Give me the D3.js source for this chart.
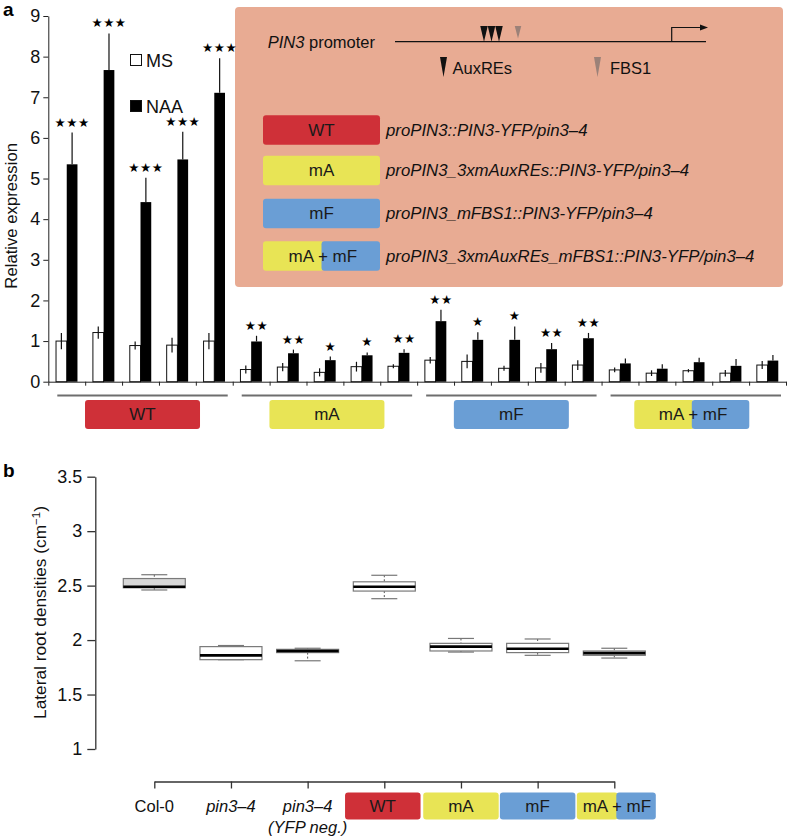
<!DOCTYPE html>
<html><head><meta charset="utf-8">
<script src="https://cdn.jsdelivr.net/npm/d3@7"></script>
<style>
html,body{margin:0;padding:0;background:#fff;}
svg{display:block;font-family:"Liberation Sans",Arial,Helvetica,sans-serif;}
</style></head>
<body><svg id="chart" width="788" height="837"></svg>
<script>
// ---------- Panel a data ----------
const groups = ["WT", "mA", "mF", "mA + mF"];
const pairGroup = [0,0,0,0,0, 1,1,1,1,1, 2,2,2,2,2, 3,3,3,3,3];
const msMean  = [1.00,1.21,0.89,0.90,1.00, 0.30,0.36,0.23,0.37,0.38, 0.53,0.50,0.33,0.34,0.41, 0.29,0.21,0.27,0.21,0.41];
const msErr   = [0.20,0.15,0.10,0.18,0.20, 0.10,0.10,0.10,0.12,0.05, 0.08,0.17,0.06,0.12,0.12, 0.06,0.07,0.04,0.08,0.10];
const naaMean = [5.35,7.67,4.42,5.47,7.11, 0.99,0.70,0.53,0.65,0.71, 1.49,1.03,1.03,0.80,1.07, 0.45,0.32,0.48,0.39,0.52];
const naaErr  = [0.78,0.90,0.60,0.68,0.85, 0.14,0.09,0.09,0.07,0.09, 0.28,0.19,0.33,0.15,0.13, 0.12,0.11,0.11,0.17,0.14];
const stars   = [3,3,3,3,3, 2,2,1,1,2, 2,1,1,2,2, 0,0,0,0,0];
const yTicksA = [0,1,2,3,4,5,6,7,8,9];
const seriesA = ["MS", "NAA"];
const legendRows = [
  {tag: "WT", text: "proPIN3::PIN3-YFP/pin3\u20134"},
  {tag: "mA", text: "proPIN3_3xmAuxREs::PIN3-YFP/pin3\u20134"},
  {tag: "mF", text: "proPIN3_mFBS1::PIN3-YFP/pin3\u20134"},
  {tag: "mA + mF", text: "proPIN3_3xmAuxREs_mFBS1::PIN3-YFP/pin3\u20134"}
];

// ---------- Panel b data ----------
const catsB = ["Col-0", "pin3\u20134", "pin3\u20134 (YFP neg.)", "WT", "mA", "mF", "mA + mF"];
const whiskLo = [2.46, 1.82, 1.81, 2.38, 1.89, 1.86, 1.835];
const q1      = [2.48, 1.82, 1.885, 2.45, 1.90, 1.885, 1.86];
const median  = [2.49, 1.86, 1.90, 2.49, 1.94, 1.92, 1.88];
const q3      = [2.565, 1.94, 1.915, 2.535, 1.97, 1.97, 1.90];
const whiskHi = [2.60, 1.95, 1.925, 2.595, 2.015, 2.01, 1.925];
const yTicksB = [1, 1.5, 2, 2.5, 3, 3.5];

const colors = {WT: "#CF3038", mA: "#E8E455", mF: "#6A9ED5"};
const legendBg = "#E8AB93";

const svg = d3.select("#chart");

// ===================== PANEL A =====================
const A = {left: 48.3, right: 786, top: 16, bottom: 381.7};
const yA = d3.scaleLinear().domain([0, 9]).range([A.bottom, A.top]);
const xA = d3.scaleBand().domain(d3.range(msMean.length)).range([A.left, A.right]).padding(0);
const xInner = d3.scaleBand().domain(seriesA).range([0, xA.bandwidth()]).paddingInner(0).paddingOuter(0.72);
const xBound = d3.scaleLinear().domain([0, msMean.length]).range([A.left, A.right]);

const gA = svg.append("g");
svg.append("text").attr("x", 3).attr("y", 16).attr("font-size", 19).attr("font-weight", "bold").text("a");

const LB = {x: 235, y: 7, w: 548, h: 280};
gA.append("rect").attr("x", LB.x).attr("y", LB.y).attr("width", LB.w).attr("height", LB.h)
  .attr("rx", 4).attr("fill", legendBg);

const axA = gA.append("g").attr("transform", `translate(${A.left},0)`)
  .call(d3.axisLeft(yA).tickValues(yTicksA).tickSize(5).tickSizeOuter(0).tickPadding(3));
axA.select(".domain").attr("stroke", "#222");
axA.selectAll(".tick line").attr("stroke", "#222");
axA.selectAll(".tick text").attr("font-size", 18).attr("fill", "#111").attr("font-family", "Liberation Sans, Arial, sans-serif");

const axX = gA.append("g").attr("transform", `translate(0,${A.bottom})`)
  .call(d3.axisBottom(xBound).tickValues(d3.range(msMean.length + 1)).tickSize(4).tickSizeOuter(0).tickFormat(""));
axX.select(".domain").attr("stroke", "#222");
axX.selectAll(".tick line").attr("stroke", "#222");

gA.append("text").attr("transform", `translate(17,${(A.top + A.bottom) / 2 + 17}) rotate(-90)`)
  .attr("text-anchor", "middle").attr("font-size", 16.7).attr("fill", "#111").text("Relative expression");

const pairs = msMean.map((m, i) => ({i, ms: m, msE: msErr[i], naa: naaMean[i], naaE: naaErr[i], st: stars[i]}));
const pg = gA.selectAll("g.pair").data(pairs).join("g").attr("class", "pair")
  .attr("transform", d => `translate(${xA(d.i)},0)`);
const bw = xInner.bandwidth();
pg.append("rect").attr("x", xInner("MS")).attr("width", bw)
  .attr("y", d => yA(d.ms)).attr("height", d => yA(0) - yA(d.ms))
  .attr("fill", "#fff").attr("stroke", "#111").attr("stroke-width", 1);
pg.append("rect").attr("x", xInner("NAA")).attr("width", bw)
  .attr("y", d => yA(d.naa)).attr("height", d => yA(0) - yA(d.naa))
  .attr("fill", "#000");
pg.append("line").attr("x1", xInner("MS") + bw / 2).attr("x2", xInner("MS") + bw / 2)
  .attr("y1", d => yA(d.ms - d.msE)).attr("y2", d => yA(d.ms + d.msE)).attr("stroke", "#111").attr("stroke-width", 1.2);
pg.append("line").attr("x1", xInner("NAA") + bw / 2).attr("x2", xInner("NAA") + bw / 2)
  .attr("y1", d => yA(d.naa)).attr("y2", d => yA(d.naa + d.naaE)).attr("stroke", "#111").attr("stroke-width", 1.2);
pg.filter(d => d.st > 0).append("text")
  .attr("x", xInner("NAA") + bw / 2).attr("y", d => yA(d.naa + d.naaE) - 6)
  .attr("text-anchor", "middle").attr("font-size", 12.5).attr("font-family", "DejaVu Sans")
  .attr("letter-spacing", 0.5).text(d => "\u2605".repeat(d.st));

const legS = [{k: "MS", y: 60, fill: "#fff"}, {k: "NAA", y: 106, fill: "#000"}];
legS.forEach(s => {
  gA.append("rect").attr("x", 130.5).attr("y", s.y - 5.5).attr("width", 11).attr("height", 11)
    .attr("fill", s.fill).attr("stroke", "#111").attr("stroke-width", 1);
  gA.append("text").attr("x", 146).attr("y", s.y + 6.5).attr("font-size", 18).attr("fill", "#111").text(s.k);
});

function drawTag(g, tag, cx, cy, w, h, fs) {
  if (tag === "mA + mF") {
    const yw = w * 0.52, bwid = w * 0.5;
    g.append("rect").attr("x", cx - w / 2).attr("y", cy - h / 2).attr("width", yw).attr("height", h).attr("rx", 3).attr("fill", colors.mA);
    g.append("rect").attr("x", cx + w / 2 - bwid).attr("y", cy - h / 2).attr("width", bwid).attr("height", h).attr("rx", 3).attr("fill", colors.mF);
    g.append("text").attr("x", cx - w / 2 + yw - 1).attr("y", cy).attr("dy", "0.35em").attr("text-anchor", "middle")
      .attr("font-size", fs).attr("fill", "#1a1a1a").text("mA + mF");
  } else {
    g.append("rect").attr("x", cx - w / 2).attr("y", cy - h / 2).attr("width", w).attr("height", h).attr("rx", 3).attr("fill", colors[tag]);
    g.append("text").attr("x", cx).attr("y", cy).attr("dy", "0.35em").attr("text-anchor", "middle")
      .attr("font-size", fs).attr("fill", "#1a1a1a").text(tag);
  }
}
groups.forEach((gname, gi) => {
  const idx = pairGroup.map((p, i) => p === gi ? i : -1).filter(i => i >= 0);
  const x0 = xA(idx[0]) + 9, x1 = xA(idx[idx.length - 1]) + xA.bandwidth() - 5;
  gA.append("line").attr("x1", x0).attr("x2", x1).attr("y1", 395.5).attr("y2", 395.5)
    .attr("stroke", "#6e6e6e").attr("stroke-width", 1.8);
  const cx = (x0 + x1) / 2;
  drawTag(gA, gname, gname === "mA + mF" ? cx - 4 : cx, 414.5, 115, 29, 17);
});

gA.append("text").attr("x", 375).attr("y", 48).attr("text-anchor", "end").attr("font-size", 16.5).attr("fill", "#111")
  .call(t => { t.append("tspan").attr("font-style", "italic").text("PIN3"); t.append("tspan").text(" promoter"); });
gA.append("line").attr("x1", 395).attr("x2", 706).attr("y1", 41.7).attr("y2", 41.7).attr("stroke", "#111").attr("stroke-width", 1.2);
gA.append("path").attr("d", "M671.7,41.7V27.5H702").attr("fill", "none").attr("stroke", "#111").attr("stroke-width", 1.2);
gA.append("path").attr("d", "M708,27.5L700,24.5L700,30.5Z").attr("fill", "#111");
const tri = (x, yTop, w, h) => `M${x - w / 2},${yTop}L${x + w / 2},${yTop}L${x},${yTop + h}Z`;
const auxPos = [484, 491.5, 499];
auxPos.forEach(x => gA.append("path").attr("d", tri(x, 26, 7.5, 15.7)).attr("fill", "#111"));
gA.append("path").attr("d", tri(518, 26, 6.5, 12.5)).attr("fill", "#9c8178");
gA.append("path").attr("d", tri(443.5, 57, 7, 20)).attr("fill", "#111");
gA.append("text").attr("x", 452.5).attr("y", 74).attr("font-size", 16.5).attr("fill", "#111").text("AuxREs");
gA.append("path").attr("d", tri(597.5, 57, 7, 20)).attr("fill", "#9c8178");
gA.append("text").attr("x", 610).attr("y", 74).attr("font-size", 16.5).attr("fill", "#111").text("FBS1");

const rowY = [130, 170.5, 213.5, 256];
legendRows.forEach((r, i) => {
  drawTag(gA, r.tag, 321.5, rowY[i], 117, 29.5, 17);
  gA.append("text").attr("x", 386).attr("y", rowY[i]).attr("dy", "0.35em").attr("font-size", 16.8)
    .attr("font-style", "italic").attr("fill", "#111").text(r.text);
});

// ===================== PANEL B =====================
const B = {left: 95.3, top: 476.7, bottom: 749, axisY: 781.5};
const yB = d3.scaleLinear().domain([1, 3.5]).range([B.bottom, B.top]);
const xB = d3.scalePoint().domain(catsB).range([154.3, 614.3]);
const gB = svg.append("g");
svg.append("text").attr("x", 3).attr("y", 477).attr("font-size", 19).attr("font-weight", "bold").text("b");

const axB = gB.append("g").attr("transform", `translate(${B.left},0)`)
  .call(d3.axisLeft(yB).tickValues(yTicksB).tickSize(8).tickSizeOuter(0).tickPadding(5).tickFormat(d3.format("")));
axB.select(".domain").attr("stroke", "#333").attr("stroke-width", 1.3);
axB.selectAll(".tick line").attr("stroke", "#333").attr("stroke-width", 1.3);
axB.selectAll(".tick text").attr("font-size", 18).attr("fill", "#111").attr("font-family", "Liberation Sans, Arial, sans-serif");

const axBX = gB.append("g").attr("transform", `translate(0,${B.axisY})`)
  .call(d3.axisBottom(xB).tickSize(7).tickSizeOuter(0).tickFormat(""));
axBX.select(".domain").attr("stroke", "#333").attr("stroke-width", 1.3);
axBX.selectAll(".tick line").attr("stroke", "#333").attr("stroke-width", 1.3);

gB.append("text").attr("transform", `translate(46,612.5) rotate(-90)`).attr("text-anchor", "middle")
  .attr("font-size", 17.3).attr("fill", "#111")
  .call(t => { t.append("tspan").text("Lateral root densities (cm"); t.append("tspan").attr("baseline-shift", "super").attr("font-size", 11.5).text("\u22121"); t.append("tspan").text(")"); });

gB.append("text").attr("x", xB(catsB[0])).attr("y", 812).attr("text-anchor", "middle").attr("font-size", 16.5).attr("fill", "#111").text("Col-0");
gB.append("text").attr("x", xB(catsB[1])).attr("y", 812).attr("text-anchor", "middle").attr("font-size", 16.5).attr("font-style", "italic").attr("fill", "#111").text("pin3\u20134");
gB.append("text").attr("x", xB(catsB[2])).attr("y", 812).attr("text-anchor", "middle").attr("font-size", 16.5).attr("font-style", "italic").attr("fill", "#111").text("pin3\u20134");
gB.append("text").attr("x", xB(catsB[2])).attr("y", 833).attr("text-anchor", "middle").attr("font-size", 16.5).attr("font-style", "italic").attr("fill", "#111").text("(YFP neg.)");
drawTag(gB, "WT", xB("WT") - 1.5, 806, 75.5, 27, 17);
drawTag(gB, "mA", xB("mA"), 806, 75.5, 27, 17);
drawTag(gB, "mF", xB("mF"), 806, 75.5, 27, 17);
drawTag(gB, "mA + mF", xB("mA + mF") + 2, 806, 79, 27, 17);

const boxW = 62, capW = 26;
const boxes = catsB.map((c, i) => ({c, i, lo: whiskLo[i], q1: q1[i], md: median[i], q3: q3[i], hi: whiskHi[i]}));
const bg = gB.selectAll("g.box").data(boxes).join("g").attr("class", "box").attr("transform", d => `translate(${xB(d.c)},0)`);
bg.append("line").attr("x1", 0).attr("x2", 0).attr("y1", d => yB(d.hi)).attr("y2", d => yB(d.q3))
  .attr("stroke", "#555").attr("stroke-dasharray", "2,2");
bg.append("line").attr("x1", 0).attr("x2", 0).attr("y1", d => yB(d.q1)).attr("y2", d => yB(d.lo))
  .attr("stroke", "#555").attr("stroke-dasharray", "2,2");
bg.append("line").attr("x1", -capW / 2).attr("x2", capW / 2).attr("y1", d => yB(d.hi)).attr("y2", d => yB(d.hi)).attr("stroke", "#777").attr("stroke-width", 1.2);
bg.append("line").attr("x1", -capW / 2).attr("x2", capW / 2).attr("y1", d => yB(d.lo)).attr("y2", d => yB(d.lo)).attr("stroke", "#777").attr("stroke-width", 1.2);
bg.append("rect").attr("x", -boxW / 2).attr("width", boxW)
  .attr("y", d => yB(d.q3)).attr("height", d => yB(d.q1) - yB(d.q3))
  .attr("fill", d => d.i === 0 ? "#d8d8d8" : "#fff").attr("stroke", "#7a7a7a").attr("stroke-width", 1.2);
bg.append("line").attr("x1", -boxW / 2).attr("x2", boxW / 2).attr("y1", d => yB(d.md)).attr("y2", d => yB(d.md))
  .attr("stroke", "#000").attr("stroke-width", 2.6);
</script></body></html>
